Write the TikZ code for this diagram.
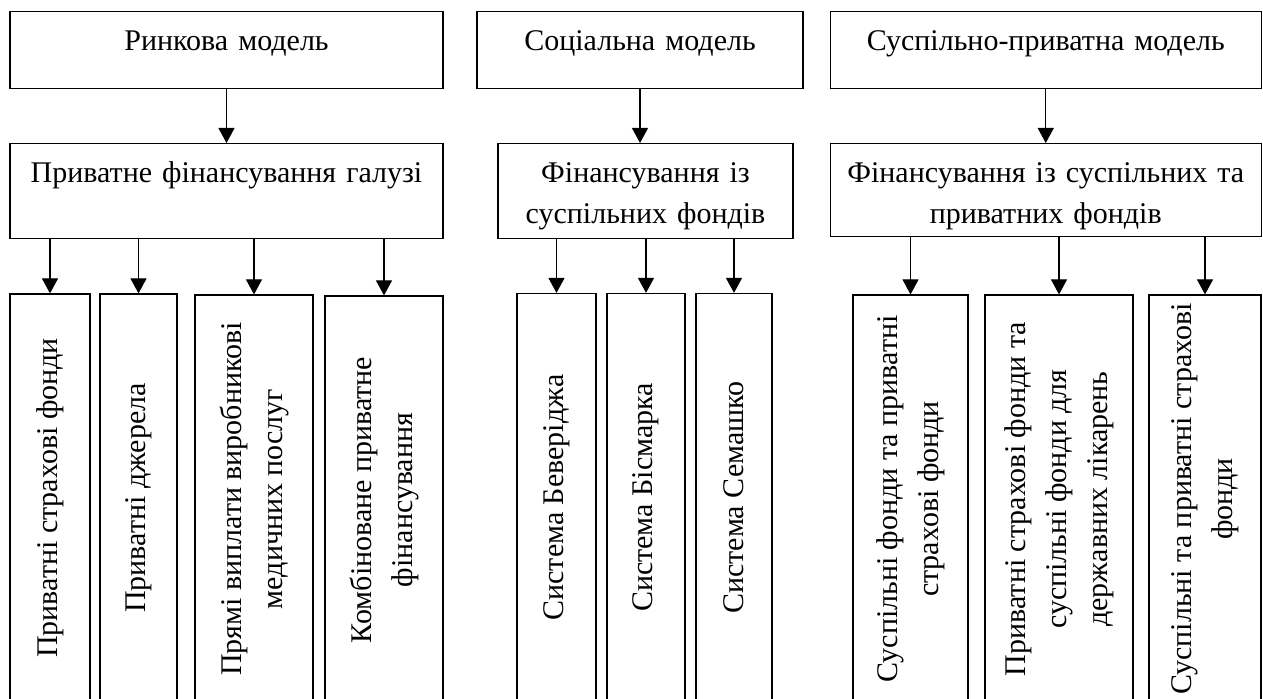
\documentclass[tikz,border=0pt]{standalone}
\usepackage{fontspec}
\setmainfont{Liberation Serif}
\usepackage{tikz}
\usetikzlibrary{arrows.meta}

\begin{document}
\begin{tikzpicture}[x=0.5pt,y=-0.5pt,font=\fontsize{15pt}{20.5pt}\selectfont,
    box/.style={draw,line width=0.6pt,inner sep=0pt,text height=19.5pt,align=center,anchor=north},
    model/.style={box,text depth=19pt},
    fund/.style={box,text depth=28pt},
    leaf/.style={draw,line width=0.6pt,inner sep=0pt,rotate=90,align=center,minimum width=204pt},
    link/.style={-{Triangle[length=7.5pt,width=8pt]},line width=0.6pt}]
  \useasboundingbox (0,0) rectangle (1263,699);
  \clip (0,0) rectangle (1263,699);

  % Market model
  \node[model,text width=216.5pt] (mkt) at (226.5,11) {Ринкова модель};
  \node[fund,text width=216.5pt] (mktfin) at (226.5,143) {Приватне фінансування галузі};
  \node[leaf,minimum height=40pt] (mkt1) at (50,498) {Приватні страхові фонди};
  \node[leaf,minimum height=38.5pt] (mkt2) at (138.5,498) {Приватні джерела};
  \node[leaf,minimum height=59pt] (mkt3) at (254,499) {Прямі виплати виробникові\\медичних послуг};
  \node[leaf,minimum height=59pt] (mkt4) at (384,500) {Комбіноване приватне\\фінансування};

  % Social model
  \node[model,text width=163pt] (soc) at (640,11) {Соціальна модель};
  \node[fund,text width=147.5pt] (socfin) at (645.5,143) {Фінансування із\\суспільних фондів};
  \node[leaf,minimum height=39.5pt] (soc1) at (556.5,497.5) {Система Беверіджа};
  \node[leaf,minimum height=39pt] (soc2) at (646,497.5) {Система Бісмарка};
  \node[leaf,minimum height=38pt] (soc3) at (734,497.5) {Система Семашко};

  % Public-private model
  \node[model,text width=215.5pt] (mix) at (1045.75,11) {Суспільно-приватна модель};
  \node[fund,text width=215.5pt,text depth=27pt] (mixfin) at (1045.75,143) {Фінансування із суспільних та\\приватних фондів};
  \node[leaf,minimum height=57.5pt] (mix1) at (910.5,499) {Суспільні фонди та приватні\\страхові фонди};
  \node[leaf,minimum height=74pt] (mix2) at (1059,499) {Приватні страхові фонди та\\суспільні фонди для\\державних лікарень};
  \node[leaf,minimum height=56pt] (mix3) at (1205,499) {Суспільні та приватні страхові\\фонди};

  % arrows
  \draw[link] (mkt.south) -- (mkt.south |- mktfin.north);
  \draw[link] (soc.south) -- (soc.south |- socfin.north);
  \draw[link] (mix.south) -- (mix.south |- mixfin.north);
  \foreach \leafnode in {mkt1,mkt2,mkt3,mkt4}
    \draw[link] (mktfin.south -| \leafnode.east) -- (\leafnode.east);
  \foreach \leafnode in {soc1,soc2,soc3}
    \draw[link] (socfin.south -| \leafnode.east) -- (\leafnode.east);
  \foreach \leafnode in {mix1,mix2,mix3}
    \draw[link] (mixfin.south -| \leafnode.east) -- (\leafnode.east);
\end{tikzpicture}
\end{document}
